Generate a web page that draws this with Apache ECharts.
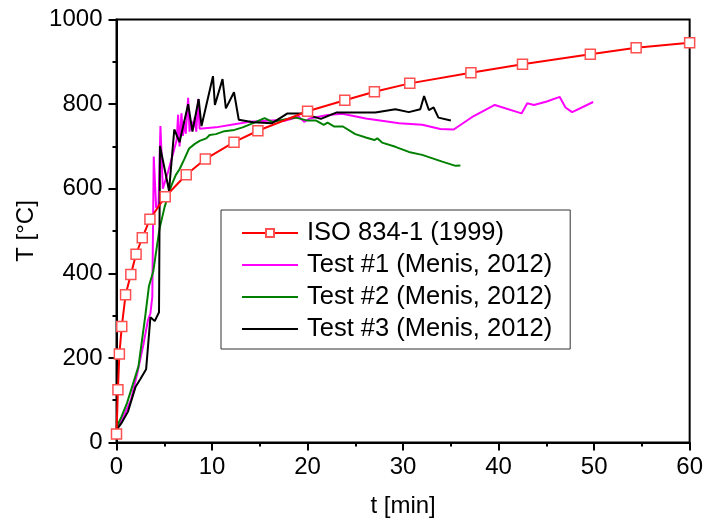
<!DOCTYPE html>
<html>
<head>
<meta charset="utf-8">
<script src="https://cdn.jsdelivr.net/npm/echarts@6/dist/echarts.min.js"></script>
<style>
html,body{margin:0;padding:0;background:#fff;}
#chart{width:706px;height:524px;}
</style>
</head>
<body>
<div id="chart"></div>
<script>
// ISO 834-1 (1999) markers [t (min), T (°C)]
var isoData = [[0,20],[0.15,125],[0.3,209],[0.55,274],[0.95,349],[1.5,397],[2.05,445],[2.7,484],[3.5,528],[5.1,581],[7.3,633],[9.3,670],[12.3,710],[14.8,737],[20,783],[23.9,809],[27,829],[30.7,849],[37.1,874],[42.5,894],[49.6,918],[54.4,933],[60,945]];

// Test #1 (Menis, 2012)
var test1Data = [[0,30],[0.8,65],[1.5,100],[2.25,171],[2.8,230],[3.3,290],[3.55,305],[3.75,345],[3.9,676],[4.15,555],[4.4,560],[4.6,748],[4.85,600],[5.4,640],[6.0,690],[6.3,715],[6.45,775],[6.6,700],[6.8,778],[6.95,725],[7.1,760],[7.25,730],[7.5,815],[7.65,735],[7.85,760],[8.05,745],[8.2,770],[8.35,735],[8.55,812],[8.7,742],[10.4,745],[12.5,753],[13.9,758],[16.7,762],[17.5,760],[19.1,770],[19.65,758],[20.2,766],[22.1,774],[23.65,777],[26.1,766],[29.6,755],[32.0,751],[33.9,741],[35.3,740],[37.2,769],[39.6,798],[42.4,778],[43.0,802],[43.7,798],[45.05,806],[46.4,817],[47.0,792],[47.7,781],[49.9,805]];

// Test #2 (Menis, 2012)
var test2Data = [[0,35],[0.5,60],[1.1,93],[2.3,180],[3.0,297],[3.4,370],[3.85,405],[4.5,505],[5.04,557],[5.7,605],[6.2,632],[6.6,646],[7.1,670],[7.6,695],[8.2,706],[8.7,713],[9.4,719],[9.75,727],[10.4,729],[11.3,736],[12.35,739],[13.2,745],[14.3,755],[15.5,767],[16.3,758],[17.7,764],[18.8,768],[20.0,761],[20.9,761],[21.7,751],[22.1,756],[22.8,747],[23.7,747],[25.0,729],[26.1,721],[27.0,715],[27.3,719],[27.8,709],[29.2,699],[30.6,687],[32.0,680],[34.1,664],[35.5,654],[36.0,655]];

// Test #3 (Menis, 2012)
var test3Data = [[0,30],[0.5,45],[1.2,73],[2.0,132],[2.5,150],[3.1,173],[3.55,296],[4.0,287],[4.45,308],[4.55,701],[5.5,595],[6.05,740],[6.6,710],[7.5,800],[7.95,735],[8.6,812],[8.9,748],[10.1,866],[10.3,798],[11.1,859],[11.45,790],[12.3,828],[12.8,763],[14.3,757],[16.3,755],[17.9,778],[19.4,778],[21.4,765],[23.0,780],[27.1,780],[29.2,788],[30.6,781],[31.8,788],[32.2,819],[32.7,786],[33.2,792],[33.7,768],[35.0,761]];

var seriesNames = ['ISO 834-1 (1999)','Test #1 (Menis, 2012)','Test #2 (Menis, 2012)','Test #3 (Menis, 2012)'];
var xTitle = 't [min]';
var yTitle = 'T [°C]';

var font = 'Arial, "Liberation Sans", sans-serif';
var hideSym = {color:'rgba(0,0,0,0)', borderWidth:0, borderColor:'rgba(0,0,0,0)'};
var chart = echarts.init(document.getElementById('chart'), null, {renderer:'canvas'});
chart.setOption({
  animation: false,
  backgroundColor: '#fff',
  grid: {left:116.5, right:14, top:19.5, bottom:81.5, show:true, borderColor:'#000', borderWidth:2, backgroundColor:'transparent'},
  legend: {
    orient:'vertical', left:221, top:210,
    data: [
      {name:seriesNames[0]},
      {name:seriesNames[1], itemStyle:hideSym},
      {name:seriesNames[2], itemStyle:hideSym},
      {name:seriesNames[3], itemStyle:hideSym}
    ],
    backgroundColor:'#fff', borderColor:'#333', borderWidth:1,
    padding:[10,18,7,20], itemWidth:56, itemHeight:10, itemGap:6,
    textStyle:{fontFamily:font, fontSize:25.5, lineHeight:25, color:'#000', padding:[0,0,0,4]}
  },
  xAxis: {
    type:'value', min:0, max:60, interval:10,
    name:xTitle, nameLocation:'middle', nameGap:52,
    nameTextStyle:{fontFamily:font, fontSize:24, color:'#000'},
    axisLine:{lineStyle:{color:'#000', width:2}},
    axisTick:{inside:false, length:8, lineStyle:{width:2, color:'#000'}},
    minorTick:{show:true, splitNumber:2, length:4, lineStyle:{width:2, color:'#000'}},
    axisLabel:{fontFamily:font, fontSize:24, color:'#000', margin:13},
    splitLine:{show:false}
  },
  yAxis: {
    type:'value', min:0, max:1000, interval:200,
    name:yTitle, nameLocation:'middle', nameGap:68, nameRotate:90,
    nameTextStyle:{fontFamily:font, fontSize:24, color:'#000'},
    axisLine:{show:true, lineStyle:{color:'#000', width:2}},
    axisTick:{show:true, inside:false, length:8, lineStyle:{width:2, color:'#000'}},
    minorTick:{show:true, splitNumber:2, length:4, lineStyle:{width:2, color:'#000'}},
    axisLabel:{fontFamily:font, fontSize:24, color:'#000', margin:14, formatter:function(v){return String(v);}},
    splitLine:{show:false}
  },
  series: [
    {name:seriesNames[1], type:'line', data:test1Data, showSymbol:false, symbol:'none', z:2,
     lineStyle:{color:'#ff00ff', width:2}, itemStyle:{color:'#ff00ff'}},
    {name:seriesNames[2], type:'line', data:test2Data, showSymbol:false, symbol:'none', z:3,
     lineStyle:{color:'#008000', width:2}, itemStyle:{color:'#008000'}},
    {name:seriesNames[3], type:'line', data:test3Data, showSymbol:false, symbol:'none', z:4,
     lineStyle:{color:'#000000', width:2}, itemStyle:{color:'#000000'}},
    {name:seriesNames[0], type:'line', data:isoData, symbol:'rect', symbolSize:10, showAllSymbol:true, z:5,
     lineStyle:{color:'#ff0000', width:2}, itemStyle:{color:'#ffffff', borderColor:'#ff5050', borderWidth:1.5}}
  ]
});
</script>
</body>
</html>
